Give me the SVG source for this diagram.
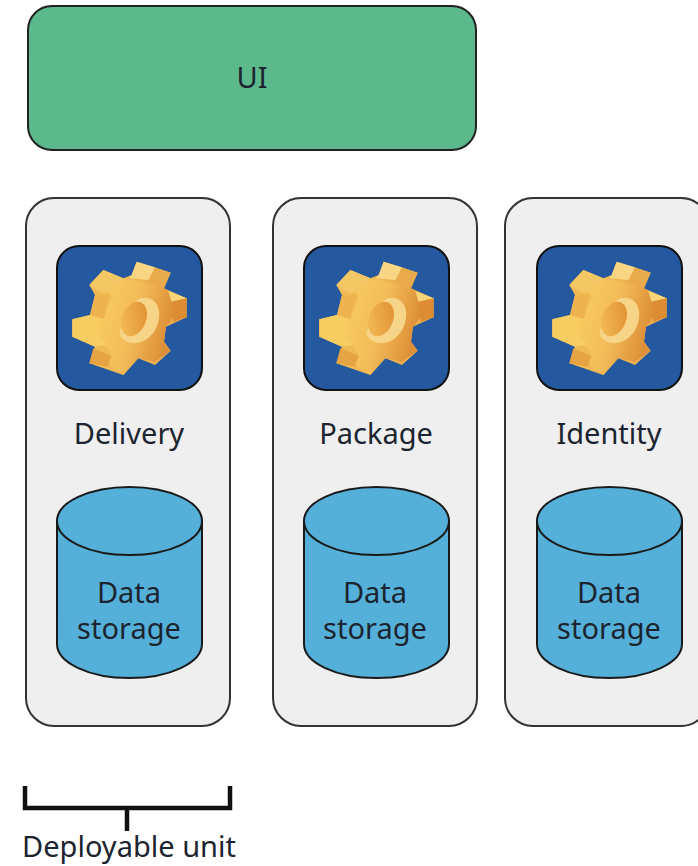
<svg xmlns="http://www.w3.org/2000/svg" width="698" height="866" viewBox="0 0 698 866">
<style>
.t{font-family:"Noto Sans","DejaVu Sans",sans-serif;font-size:29px;fill:#1c2430;text-anchor:middle}
.col{fill:#efefef;stroke:#333;stroke-width:2}
.ic{fill:#24589f;stroke:#111;stroke-width:2}
.db{fill:#55b0d9;stroke:#1a1a1a;stroke-width:2}
.br{fill:none;stroke:#111;stroke-width:4.5}
</style>
<defs>
<linearGradient id="gf" x1="0" y1="0" x2="1" y2="0.3"><stop offset="0" stop-color="#fbd263"/><stop offset="0.6" stop-color="#f2bb58"/><stop offset="1" stop-color="#de9038"/></linearGradient>
<linearGradient id="gb" x1="0" y1="0" x2="1" y2="0"><stop offset="0" stop-color="#f3bf55"/><stop offset="1" stop-color="#e9ac4c"/></linearGradient>
<linearGradient id="gh" x1="1" y1="0" x2="0" y2="1"><stop offset="0" stop-color="#e08c30"/><stop offset="1" stop-color="#f4c05a"/></linearGradient>
<g id="gear" transform="translate(40,230) scale(0.3333)">
<path fill="url(#gb)" d="M290 95L392 128L372 175L440 205L440 262L378 290L372 335L392 362L345 405L295 385L250 435L148 400L165 350L97 320L97 268L150 255L165 195L148 165L190 120L250 145L275 135Z"/>
<path fill="#f8d684" d="M275 135L290 95L345 112L325 150L265 145Z"/>
<path fill="#e9aa4c" d="M345 112L392 128L372 175L325 160Z"/>
<path fill="#f4c765" d="M148 165L190 120L250 145L205 185L190 190Z"/>
<path fill="#eeb24f" d="M165 195L205 195L190 265L150 255Z"/>
<path fill="#f7cd62" d="M97 268L150 255L190 268L215 300L200 345L165 350L97 320Z"/>
<path fill="#e6a444" d="M160 355L215 378L205 410L148 400Z"/>
<path fill="url(#gf)" d="M205 185L250 145L320 160L372 175L385 183L395 215L400 262L378 290L372 335L392 362L345 395L295 385L250 435L205 405L215 378L192 335L155 290L190 268L215 200Z"/>
<path fill="#f8d47a" d="M385 183L440 205L395 215Z"/>
<path fill="#dd8c34" d="M395 215L440 205L440 262L400 275Z"/>
<path fill="#f6d588" d="M300 205C345 195 370 235 352 285C338 325 300 345 270 338C250 332 240 320 238 310L260 240Z"/>
<ellipse cx="282" cy="267" rx="36" ry="54" transform="rotate(22 282 267)" fill="url(#gh)"/>
</g>
</defs>
<g id="ui"><rect x="28" y="6" width="448" height="144" rx="24" fill="#5cb98c" stroke="#222" stroke-width="2"/><text class="t" x="252" y="88">UI</text></g>
<g id="delivery">
<rect class="col" x="26" y="198" width="204" height="528" rx="28"/>
<rect class="ic" x="57" y="246" width="145" height="144" rx="22"/><use href="#gear"/>
<text class="t" x="129" y="444">Delivery</text>
<path class="db" d="M57 521A72.500 34 0 0 1 202 521V644A72.500 34 0 0 1 57 644Z"/><path class="db" style="fill:none" d="M57 521A72.500 34 0 0 0 202 521"/>
<text class="t" x="129" y="603">Data</text><text class="t" x="129" y="639">storage</text>
</g>
<g id="package">
<rect class="col" x="273" y="198" width="204" height="528" rx="28"/>
<rect class="ic" x="304" y="246" width="145" height="144" rx="22"/><use href="#gear" x="247"/>
<text class="t" x="376" y="444">Package</text>
<path class="db" d="M304 521A72.500 34 0 0 1 449 521V644A72.500 34 0 0 1 304 644Z"/><path class="db" style="fill:none" d="M304 521A72.500 34 0 0 0 449 521"/>
<text class="t" x="375" y="603">Data</text><text class="t" x="375" y="639">storage</text>
</g>
<g id="identity">
<rect class="col" x="505" y="198" width="204" height="528" rx="28"/>
<rect class="ic" x="537" y="246" width="145" height="144" rx="22"/><use href="#gear" x="480"/>
<text class="t" x="609" y="444">Identity</text>
<path class="db" d="M537 521A72.500 34 0 0 1 682 521V644A72.500 34 0 0 1 537 644Z"/><path class="db" style="fill:none" d="M537 521A72.500 34 0 0 0 682 521"/>
<text class="t" x="609" y="603">Data</text><text class="t" x="609" y="639">storage</text>
</g>
<g id="connectors"><path class="br" d="M25 786V808H230V786M127 808V831"/></g>
<g id="deployable-unit"><text class="t" x="129" y="857">Deployable unit</text></g>
</svg>
